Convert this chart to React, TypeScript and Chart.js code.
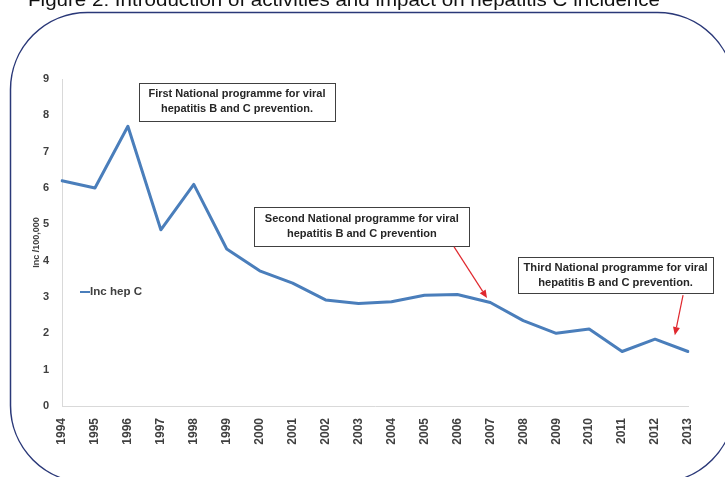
import React, { useEffect, useRef } from "react";
import { Chart, registerables } from "chart.js";

Chart.register(...registerables);

const years = ["1994", "1995", "1996", "1997", "1998", "1999", "2000", "2001", "2002", "2003", "2004", "2005", "2006", "2007", "2008", "2009", "2010", "2011", "2012", "2013"];
const incHepC = [6.2, 6.0, 7.7, 4.85, 6.1, 4.32, 3.72, 3.38, 2.92, 2.82, 2.87, 3.05, 3.07, 2.85, 2.35, 2.0, 2.12, 1.5, 1.84, 1.5];
const yTickValues = [0, 1, 2, 3, 4, 5, 6, 7, 8, 9];
const seriesLabel = "Inc hep C";
const yAxisTitle = "Inc /100,000";
const figureTitle = "Figure 2: Introduction of activities and impact on hepatitis C incidence";
const note1Lines = ["First National programme for viral", "hepatitis B and C prevention."];
const note2Lines = ["Second National programme for viral", "hepatitis B and C prevention"];
const note3Lines = ["Third National programme for viral", "hepatitis B and C prevention."];

const FONT = '"Liberation Sans", Arial, sans-serif';

function drawScaledText(ctx: CanvasRenderingContext2D, text: string, x: number, y: number, sx: number) {
  ctx.save();
  ctx.translate(x, y);
  ctx.scale(sx, 1);
  ctx.fillText(text, 0, 0);
  ctx.restore();
}

const overlay = {
  id: "overlay",
  beforeDraw(chart: any) {
    const ctx: CanvasRenderingContext2D = chart.ctx;
    ctx.save();
    ctx.fillStyle = "#ffffff";
    ctx.fillRect(0, 0, chart.width, chart.height);
    // rounded frame
    ctx.strokeStyle = "#2a3878";
    ctx.lineWidth = 1.5;
    ctx.beginPath();
    (ctx as any).roundRect(10.5, 12.5, 724, 470, 77);
    ctx.stroke();
    // figure title (clipped at top)
    ctx.fillStyle = "#111111";
    ctx.font = `18px ${FONT}`;
    ctx.textAlign = "left";
    ctx.textBaseline = "alphabetic";
    const w = ctx.measureText(figureTitle).width;
    drawScaledText(ctx, figureTitle, 28, 6, 632 / w);
    ctx.restore();
  },
  afterDraw(chart: any) {
    const ctx: CanvasRenderingContext2D = chart.ctx;
    const xs = chart.scales.x;
    const ys = chart.scales.y;
    const area = chart.chartArea;
    ctx.save();
    // legend inside plot
    const ly = area.top + 213;
    const lx = area.left + 18;
    ctx.strokeStyle = "#4A7EBB";
    ctx.lineWidth = 2;
    ctx.beginPath();
    ctx.moveTo(lx, ly);
    ctx.lineTo(lx + 10, ly);
    ctx.stroke();
    ctx.fillStyle = "#404040";
    ctx.font = `bold 11px ${FONT}`;
    ctx.textBaseline = "middle";
    ctx.textAlign = "left";
    const lw = ctx.measureText(seriesLabel).width;
    drawScaledText(ctx, seriesLabel, lx + 10, ly, 52 / lw);

    const notes = [
      { lines: note1Lines, cx: 5.31, cy: 8.37, w: 196, h: 38, l1: 177, arrow: null as any },
      { lines: note2Lines, cx: 9.1, cy: 4.95, w: 215, h: 39, l1: 194, arrow: { from: [11.9, 4.38], to: [12.9, 2.97] } },
      { lines: note3Lines, cx: 16.8, cy: 3.6, w: 195, h: 36, l1: 184, arrow: { from: [18.85, 3.05], to: [18.6, 1.95] } },
    ];
    for (const n of notes) {
      const px = xs.getPixelForValue(n.cx);
      const py = ys.getPixelForValue(n.cy);
      const left = Math.round(px - n.w / 2) + 0.5;
      const top = Math.round(py - n.h / 2) + 0.5;
      ctx.fillStyle = "#ffffff";
      ctx.fillRect(left, top, n.w, n.h);
      ctx.strokeStyle = "#404040";
      ctx.lineWidth = 1;
      ctx.strokeRect(left, top, n.w, n.h);
      ctx.fillStyle = "#262626";
      ctx.font = `bold 11px ${FONT}`;
      ctx.textAlign = "left";
      ctx.textBaseline = "middle";
      const w1 = ctx.measureText(n.lines[0]).width;
      const sx = n.l1 / w1;
      n.lines.forEach((t, i) => {
        const tw = ctx.measureText(t).width * sx;
        drawScaledText(ctx, t, px - tw / 2, py - 7.5 + i * 15, sx);
      });
      if (n.arrow) {
        const x0 = xs.getPixelForValue(n.arrow.from[0]);
        const y0 = ys.getPixelForValue(n.arrow.from[1]);
        const x1 = xs.getPixelForValue(n.arrow.to[0]);
        const y1 = ys.getPixelForValue(n.arrow.to[1]);
        const ang = Math.atan2(y1 - y0, x1 - x0);
        const hl = 8, hw = 3.5;
        ctx.strokeStyle = "#e0282e";
        ctx.fillStyle = "#e0282e";
        ctx.lineWidth = 1.2;
        ctx.beginPath();
        ctx.moveTo(x0, y0);
        ctx.lineTo(x1 - Math.cos(ang) * hl, y1 - Math.sin(ang) * hl);
        ctx.stroke();
        ctx.beginPath();
        ctx.moveTo(x1, y1);
        ctx.lineTo(x1 - Math.cos(ang) * hl - Math.sin(ang) * hw, y1 - Math.sin(ang) * hl + Math.cos(ang) * hw);
        ctx.lineTo(x1 - Math.cos(ang) * hl + Math.sin(ang) * hw, y1 - Math.sin(ang) * hl - Math.cos(ang) * hw);
        ctx.closePath();
        ctx.fill();
      }
    }
    ctx.restore();
  },
};

export default function App() {
  const ref = useRef<HTMLCanvasElement>(null);
  useEffect(() => {
    const chart = new Chart(ref.current as HTMLCanvasElement, {
      type: "line",
      data: {
        labels: years,
        datasets: [
          {
            label: seriesLabel,
            data: incHepC,
            borderColor: "#4A7EBB",
            backgroundColor: "#4A7EBB",
            borderWidth: 3,
            pointRadius: 0,
            tension: 0,
            fill: false,
            borderJoinStyle: "round",
            borderCapStyle: "round",
          },
        ],
      },
      options: {
        responsive: false,
        animation: false,
        layout: { padding: { left: 0, top: 79, right: 37, bottom: 0 } },
        plugins: {
          legend: { display: false },
          tooltip: { enabled: false },
          title: { display: false },
        },
        scales: {
          x: {
            type: "category",
            offset: false,
            grid: { display: false, drawTicks: false },
            border: { display: true, color: "#d9d9d9", width: 1 },
            ticks: {
              autoSkip: false,
              minRotation: 90,
              maxRotation: 90,
              padding: 12,
              color: "#404040",
              font: { family: FONT, size: 12, weight: "bold" },
            },
            afterFit: (s: any) => {
              s.height = 71;
            },
          },
          y: {
            min: 0,
            max: 9,
            grid: { display: false, drawTicks: false },
            border: { display: true, color: "#d9d9d9", width: 1 },
            afterBuildTicks: (s: any) => {
              s.ticks = yTickValues.map((v) => ({ value: v }));
            },
            ticks: {
              padding: 13,
              color: "#404040",
              font: { family: FONT, size: 11, weight: "bold" },
            },
            title: {
              display: true,
              text: yAxisTitle,
              color: "#404040",
              padding: { top: 31, bottom: 0 },
              font: { family: FONT, size: 9, weight: "bold" },
            },
            afterFit: (s: any) => {
              s.width = 62;
            },
          },
        },
      } as any,
      plugins: [overlay],
    });
    return () => chart.destroy();
  }, []);
  return (
    <div style={{ position: "fixed", left: 0, top: 0, width: 725, height: 477, background: "#fff", overflow: "hidden" }}>
      <canvas ref={ref} width={725} height={477} style={{ display: "block" }} />
    </div>
  );
}
